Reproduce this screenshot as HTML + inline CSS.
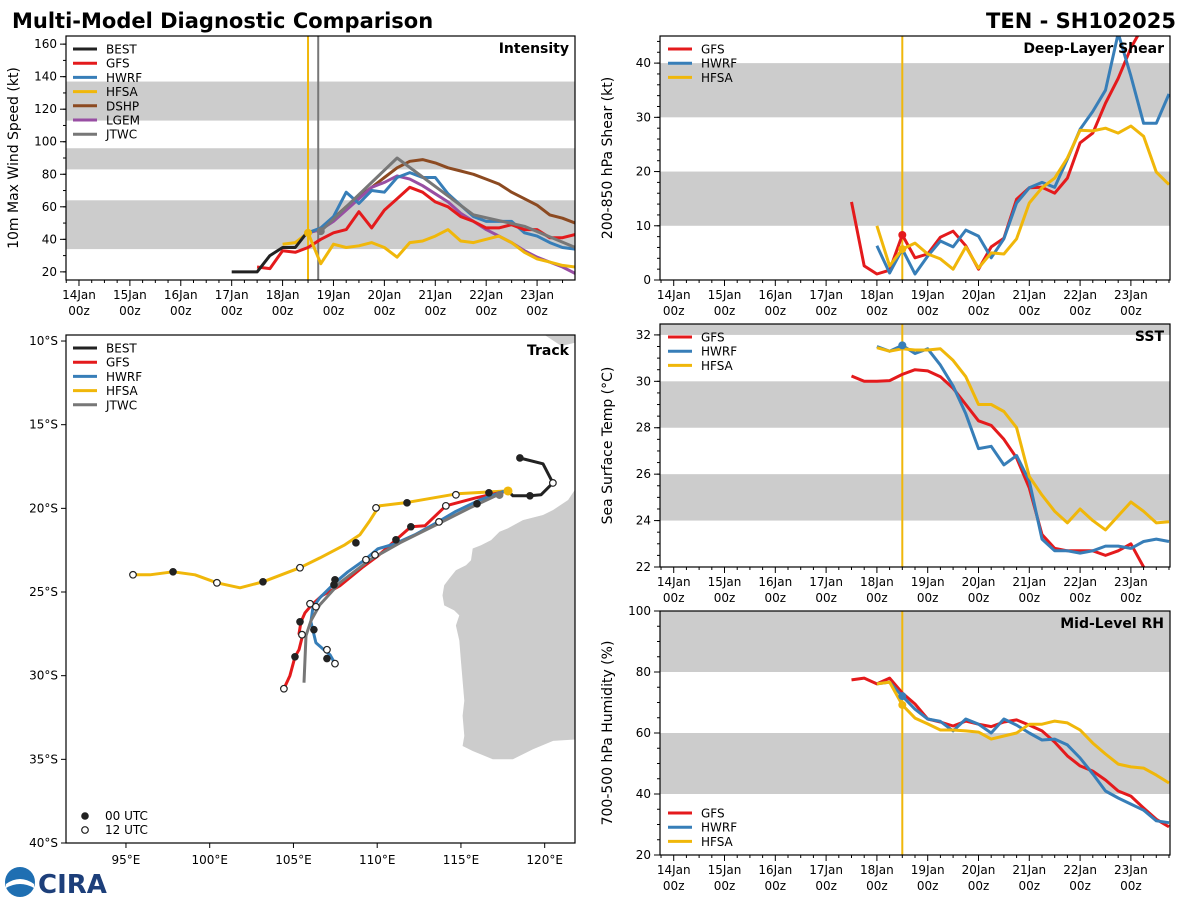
<!DOCTYPE html>
<html><head><meta charset="utf-8"><style>
html,body{margin:0;padding:0;background:#fff;}
svg text{font-family:"DejaVu Sans","Liberation Sans",sans-serif;}
</style></head><body>
<svg id="fig" width="1200" height="900" viewBox="0 0 1200 900" xmlns="http://www.w3.org/2000/svg">
<text x="12" y="28" font-size="21" font-weight="bold">Multi-Model Diagnostic Comparison</text>
<text x="1176" y="28" font-size="21" font-weight="bold" text-anchor="end">TEN - SH102025</text>
<g>
<circle cx="20" cy="882" r="15" fill="#1f6fb2"/>
<path d="M6 884 Q20 874 34 884 L34 888 Q20 880 6 888Z" fill="#fff"/>
<text x="38" y="893" font-size="26" font-weight="bold" fill="#1d3f7a" font-family="Liberation Serif,serif">CIRA</text>
</g>
</svg>
<script>
// ---------- data ----------
const intBestT=[3,3.25,3.5,3.75,4,4.25,4.5];
const intBest=[20,20,20,30,35,35,45];
const intGfs=[23,22,33,32,35,40,44,46,57,47,58,65,72,69,63,60,54,51,47,47,49,46,46,41,41,43]; // t from 3.5
const intHwrf=[44,47,54,69,62,70,69,78,81,78,78,68,61,54,51,51,51,44,42,38,35,34]; // t from 4.5
const intHfsa=[37,38,44,25,37,35,36,38,35,29,38,39,42,46,39,38,40,42,38,32,28,26,24,23]; // t from 4
const intDshp=[44,46,53,60,66,72,78,84,88,89,87,84,82,80,77,74,69,65,61,55,53,50]; // 4.5
const intLgem=[44,46,51,58,65,72,75,79,77,73,68,63,56,51,46,42,38,33,29,26,23,19]; // 4.5
const intJtwcT=[4.75,6.25,7.75,8.75,9.75];
const intJtwc=[45,90,55,48,35];
const shGfs=[14.4,2.6,1.1,1.8,8.3,4.1,4.8,7.9,9.0,6.3,2.0,6.1,7.7,14.9,17.0,17.1,16.0,18.8,25.3,27.1,32.6,37.2,42.8,47,50,53]; // 3.5
const shHwrf=[6.3,1.3,5.7,1.1,4.4,7.2,6.1,9.2,8.1,4.1,7.6,14.2,17.0,18.0,17.1,22.3,27.8,31.1,35.0,45.5,37.6,28.9,28.9,34.3]; // 4
const shHfsa=[10.0,2.6,5.7,6.8,4.8,3.9,2.0,6.1,2.2,5.0,4.8,7.6,14.2,17.0,18.8,22.5,27.6,27.5,28.0,27.1,28.4,26.5,19.9,17.6];
const sstGfs=[30.23,30.0,30.0,30.03,30.3,30.5,30.45,30.2,29.7,29.0,28.3,28.1,27.5,26.7,25.4,23.4,22.8,22.7,22.7,22.7,22.5,22.7,23.0,22.0,21.4,21.0];
const sstHwrf=[31.5,31.3,31.55,31.2,31.4,30.7,29.8,28.6,27.1,27.2,26.4,26.8,25.7,23.2,22.7,22.7,22.6,22.7,22.9,22.9,22.8,23.1,23.2,23.1];
const sstHfsa=[31.45,31.3,31.4,31.35,31.35,31.4,30.9,30.2,29.0,29.0,28.7,28.0,25.9,25.1,24.4,23.9,24.5,24.0,23.6,24.2,24.8,24.4,23.9,23.95];
const rhGfs=[77.4,78.0,76.1,78.0,73.1,69.5,64.6,63.6,62.3,63.9,62.9,62.1,63.6,64.3,62.6,60.7,57.0,52.5,49.2,47.5,44.6,41.0,39.3,35.4,31.7,29.2];
const rhHwrf=[76.1,76.7,72.1,67.8,64.6,63.8,60.7,64.6,62.9,60.0,64.6,62.6,60.0,57.7,58.0,56.1,51.8,46.6,41.0,38.7,36.7,34.7,31.2,30.6];
const rhHfsa=[76.1,76.7,69.2,64.9,63.0,61.0,61.0,60.7,60.3,58.0,59.0,60.0,62.9,62.9,63.9,63.3,61.0,56.7,53.1,49.8,48.9,48.5,46.2,43.6];
const dayLabels=["14Jan","15Jan","16Jan","17Jan","18Jan","19Jan","20Jan","21Jan","22Jan","23Jan"];
// track (lon E, lat)
const trkBestLon=[118.52,119.9,120.49,119.78,119.12,118.10,117.81];
const trkBestLat=[-16.99,-17.34,-18.48,-19.19,-19.25,-19.25,-18.96];
const trkGfsLon=[117.81,115.90,114.10,112.85,112.01,111.06,110.04,109.09,107.77,106.70,106.10,105.69,105.45,105.33,105.51,105.33,105.09,104.79,104.43];
const trkGfsLat=[-18.96,-19.37,-19.85,-21.04,-21.10,-21.94,-22.84,-23.55,-24.63,-25.22,-25.76,-26.24,-26.78,-27.49,-27.73,-28.45,-28.87,-30.00,-30.78];
const trkHwrfLon=[117.81,116.14,114.64,113.63,112.25,111.06,110.04,109.27,108.25,107.54,106.58,106.16,106.04,106.34,106.82,107.18,107.48];
const trkHwrfLat=[-18.90,-19.49,-20.21,-20.81,-21.58,-22.12,-22.42,-23.07,-23.79,-24.39,-25.34,-25.94,-26.78,-28.03,-28.45,-28.75,-29.28];
const trkJtwcLon=[117.33,115.54,113.75,111.36,109.57,107.77,106.58,106.04,105.75,105.63];
const trkJtwcLat=[-19.13,-19.97,-20.87,-22.06,-23.07,-24.45,-25.76,-26.72,-27.61,-30.42];
const trkHfsaLon=[117.81,114.76,111.66,110.16,109.93,109.51,108.97,108.07,106.58,105.39,103.18,101.81,100.43,99.12,97.81,96.43,95.42];
const trkHfsaLat=[-18.96,-19.13,-19.67,-19.85,-20.15,-20.81,-21.58,-22.18,-22.96,-23.55,-24.39,-24.75,-24.45,-23.97,-23.79,-23.97,-23.97];
const fixFilledLon=[116.67,115.96,112.01,111.12,107.48,107.42,105.39,106.22,107.00,105.09,111.78,108.73,103.18,97.81,118.52,119.12];
const fixFilledLat=[-19.07,-19.73,-21.10,-21.88,-24.27,-24.57,-26.78,-27.25,-28.98,-28.87,-19.67,-22.06,-24.39,-23.79,-16.99,-19.25];
const fixOpenLon=[114.10,113.69,109.33,109.87,105.99,106.34,105.51,107.00,107.48,104.43,114.70,109.93,105.39,100.43,95.42,120.49];
const fixOpenLat=[-19.85,-20.81,-23.07,-22.78,-25.70,-25.88,-27.55,-28.45,-29.28,-30.78,-19.19,-19.97,-23.55,-24.45,-23.97,-18.48];
const lonTicks=[95,100,105,110,115,120];
const latTicks=[-10,-15,-20,-25,-30,-35,-40];
// land outline (lon,lat) approximate
const landLon=[122,121.4,120.5,119.9,118.7,117.8,117.3,116.8,116.2,115.7,115.6,115.3,114.7,114.3,114.0,113.9,114.0,114.6,114.9,114.7,114.9,115.0,115.1,115.2,115.1,115.2,115.1,115.7,116.9,118.1,119.3,120.5,122];
const landLat=[-18.6,-19.5,-20.1,-20.4,-20.7,-21.2,-21.4,-21.9,-22.2,-22.4,-23.1,-23.4,-23.7,-24.2,-24.6,-25.2,-25.8,-26.1,-26.4,-27.0,-27.9,-29.1,-30.3,-31.5,-32.4,-33.6,-34.2,-34.5,-35.0,-35.0,-34.4,-33.9,-33.8];
// ---------- helpers ----------
const NS="http://www.w3.org/2000/svg";
const svg=document.getElementById('fig');
const C={best:"#222222",gfs:"#e41a1c",hwrf:"#377eb8",hfsa:"#f0b70a",dshp:"#8c4a21",lgem:"#984ea3",jtwc:"#777777",band:"#cccccc"};
function el(tag,attrs,parent){const e=document.createElementNS(NS,tag);for(const k in attrs)e.setAttribute(k,attrs[k]);(parent||svg).appendChild(e);return e;}
function seqT(start,n){const a=[];for(let i=0;i<n;i++)a.push(start+i*0.25);return a;}
function mkPanel(box,name){
  const g=el('g',{});
  
  
  const cid='clip-'+name;
  const cp=el('clipPath',{id:cid},g);el('rect',{x:box.x0,y:box.y0,width:box.x1-box.x0,height:box.y1-box.y0},cp);
  const inner=el('g',{'clip-path':'url(#'+cid+')'},g);
  return {g,inner};
}
function timePanel(box,name,yTicks,bands,ylabel,title,extraMinor){
  const P=mkPanel(box,name);
  const X=t=>box.x0+(t-box.tmin)/(box.tmax-box.tmin)*(box.x1-box.x0);
  const Y=v=>box.y1-(v-box.vmin)/(box.vmax-box.vmin)*(box.y1-box.y0);
  bands.forEach(b=>{const r=el('rect',{x:box.x0,y:Y(b[1]),width:box.x1-box.x0,height:Y(b[0])-Y(b[1]),fill:C.band},P.inner);
    
    });
  for(let t=-0.25;t<=box.tmax+0.001;t+=0.25){const x=X(t);if(x<box.x0-0.5)continue;const major=Math.abs(t-Math.round(t))<1e-6;
    el('line',{x1:x,x2:x,y1:box.y1,y2:box.y1+(major?6:3),stroke:'#000','stroke-width':1},P.g);}
  dayLabels.forEach((d,i)=>{const x=X(i);
    const t1=el('text',{x:x,y:box.y1+19,'font-size':12,'text-anchor':'middle'},P.g);t1.textContent=d;
    
    
    const t2=el('text',{x:x,y:box.y1+35,'font-size':12,'text-anchor':'middle'},P.g);t2.textContent='00z';});
  yTicks.forEach(v=>{const y=Y(v);el('line',{x1:box.x0-6,x2:box.x0,y1:y,y2:y,stroke:'#000'},P.g);
    const t=el('text',{x:box.x0-9,y:y+4,'font-size':12,'text-anchor':'end'},P.g);t.textContent=(v+'');
    
    });
  extraMinor.forEach(v=>{const y=Y(v);if(y>=box.y0&&y<=box.y1)el('line',{x1:box.x0-3,x2:box.x0,y1:y,y2:y,stroke:'#000'},P.g);});
  const cy=(box.y0+box.y1)/2;
  const yl=el('text',{x:0,y:0,'font-size':14,'text-anchor':'middle',transform:`translate(${box.x0-48},${cy}) rotate(-90)`},P.g);yl.textContent=ylabel;
  
  
  const tt=el('text',{x:box.x1-6,y:box.y0+17,'font-size':14,'font-weight':'bold','text-anchor':'end'},P.g);tt.textContent=title;
  
  
  el('line',{x1:X(4.5),x2:X(4.5),y1:box.y0,y2:box.y1,stroke:C.hfsa,'stroke-width':2},P.inner);
  return {P,X,Y};
}
function series(ax,ts,vs,color,name){
  const d=ts.map((t,i)=>(i?'L':'M')+ax.X(t).toFixed(1)+' '+ax.Y(vs[i]).toFixed(1)).join(' ');
  const p=el('path',{d:d,fill:'none',stroke:color,'stroke-width':3,'stroke-linejoin':'round'},ax.P.inner);
  
  
  return p;
}
function dot(ax,t,v,color){el('circle',{cx:ax.X(t),cy:ax.Y(v),r:4,fill:color},ax.P.inner);}
function legend(g,x,y,items){
  items.forEach((it,i)=>{const yy=y+i*14.2;
    const l=el('line',{x1:x,x2:x+24,y1:yy,y2:yy,stroke:it[1],'stroke-width':3},g);
    
    
    const t=el('text',{x:x+33,y:yy+4.5,'font-size':12},g);t.textContent=it[0];});
}
function frame(g,box){el('rect',{x:box.x0,y:box.y0,width:box.x1-box.x0,height:box.y1-box.y0,fill:'none',stroke:'#000','stroke-width':1.2},g);}
function range(a,b,s){const r=[];for(let v=a;v<=b+1e-9;v+=s)r.push(+v.toFixed(3));return r;}

// ---------- intensity ----------
const b1={x0:66,x1:575,y0:36,y1:280,tmin:-0.255,tmax:9.745,vmin:15,vmax:165};
const A1=timePanel(b1,'intensity-panel',range(20,160,20),[[34,64],[83,96],[113,137]],'10m Max Wind Speed (kt)','Intensity',range(20,165,10));
el('line',{x1:A1.X(4.7),x2:A1.X(4.7),y1:b1.y0,y2:b1.y1,stroke:C.jtwc,'stroke-width':2},A1.P.inner);
series(A1,seqT(4.5,intDshp.length),intDshp,C.dshp,'dshp-line');
series(A1,seqT(4.5,intLgem.length),intLgem,C.lgem,'lgem-line');
series(A1,seqT(4.5,intHwrf.length),intHwrf,C.hwrf,'hwrf-line');
series(A1,seqT(3.5,intGfs.length),intGfs,C.gfs,'gfs-line');
series(A1,seqT(4,intHfsa.length),intHfsa,C.hfsa,'hfsa-line');
series(A1,intJtwcT,intJtwc,C.jtwc,'jtwc-line');
series(A1,intBestT,intBest,C.best,'best-line');
dot(A1,4.5,44,C.hfsa);dot(A1,4.75,45,C.jtwc);
frame(A1.P.g,b1);
legend(A1.P.g,73,49,[['BEST',C.best],['GFS',C.gfs],['HWRF',C.hwrf],['HFSA',C.hfsa],['DSHP',C.dshp],['LGEM',C.lgem],['JTWC',C.jtwc]]);

// ---------- shear ----------
const b2={x0:660,x1:1170,y0:36,y1:280,tmin:-0.27,tmax:9.77,vmin:0,vmax:45};
const A2=timePanel(b2,'shear-panel',range(0,40,10),[[10,20],[30,40]],'200-850 hPa Shear (kt)','Deep-Layer Shear',range(0,45,2));
series(A2,seqT(3.5,shGfs.length),shGfs,C.gfs,'gfs-shear-line');
series(A2,seqT(4,shHwrf.length),shHwrf,C.hwrf,'hwrf-shear-line');
series(A2,seqT(4,shHfsa.length),shHfsa,C.hfsa,'hfsa-shear-line');
dot(A2,4.5,8.3,C.gfs);dot(A2,4.5,5.7,C.hfsa);
frame(A2.P.g,b2);
legend(A2.P.g,668,49,[['GFS',C.gfs],['HWRF',C.hwrf],['HFSA',C.hfsa]]);

// ---------- SST ----------
const b3={x0:660,x1:1170,y0:324,y1:567,tmin:-0.27,tmax:9.77,vmin:22,vmax:32.47};
const A3=timePanel(b3,'sst-panel',range(22,32,2),[[24,26],[28,30],[32,34]],'Sea Surface Temp (°C)','SST',range(22,32.4,0.5));
series(A3,seqT(3.5,sstGfs.length),sstGfs,C.gfs,'gfs-sst-line');
series(A3,seqT(4,sstHwrf.length),sstHwrf,C.hwrf,'hwrf-sst-line');
series(A3,seqT(4,sstHfsa.length),sstHfsa,C.hfsa,'hfsa-sst-line');
dot(A3,4.5,31.55,C.hwrf);
frame(A3.P.g,b3);
legend(A3.P.g,668,337,[['GFS',C.gfs],['HWRF',C.hwrf],['HFSA',C.hfsa]]);

// ---------- RH ----------
const b4={x0:660,x1:1170,y0:611,y1:855,tmin:-0.27,tmax:9.77,vmin:20,vmax:100};
const A4=timePanel(b4,'rh-panel',range(20,100,20),[[40,60],[80,100]],'700-500 hPa Humidity (%)','Mid-Level RH',range(20,100,5));
series(A4,seqT(3.5,rhGfs.length),rhGfs,C.gfs,'gfs-rh-line');
series(A4,seqT(4,rhHwrf.length),rhHwrf,C.hwrf,'hwrf-rh-line');
series(A4,seqT(4,rhHfsa.length),rhHfsa,C.hfsa,'hfsa-rh-line');
dot(A4,4.5,72.1,C.hwrf);dot(A4,4.5,69.2,C.hfsa);
frame(A4.P.g,b4);
legend(A4.P.g,668,813,[['GFS',C.gfs],['HWRF',C.hwrf],['HFSA',C.hfsa]]);

// ---------- track ----------
const b5={x0:66,x1:575,y0:335,y1:843,lonMin:91.42,lonMax:121.81,latMax:-9.64,latMin:-40};
const PT=mkPanel(b5,'track-panel');
const LX=lon=>b5.x0+(lon-b5.lonMin)/(b5.lonMax-b5.lonMin)*(b5.x1-b5.x0);
const LY=lat=>b5.y0+(b5.latMax-lat)/(b5.latMax-b5.latMin)*(b5.y1-b5.y0);
const land=el('path',{d:landLon.map((l,i)=>(i?'L':'M')+LX(l).toFixed(1)+' '+LY(landLat[i]).toFixed(1)).join(' ')+'Z',fill:C.band},PT.inner);


el('path',{d:`M${LX(120)} ${b5.y0} L${LX(121)} ${LY(-10.3)} L${LX(121.8)} ${LY(-10.1)} L${LX(121.8)} ${b5.y0}Z`,fill:C.band},PT.inner);
function track(lons,lats,color,name){const p=el('path',{d:lons.map((l,i)=>(i?'L':'M')+LX(l).toFixed(1)+' '+LY(lats[i]).toFixed(1)).join(' '),fill:'none',stroke:color,'stroke-width':3,'stroke-linejoin':'round'},PT.inner);
  
  }
track(trkHfsaLon,trkHfsaLat,C.hfsa,'hfsa-track');
track(trkGfsLon,trkGfsLat,C.gfs,'gfs-track');
track(trkHwrfLon,trkHwrfLat,C.hwrf,'hwrf-track');
track(trkJtwcLon,trkJtwcLat,C.jtwc,'jtwc-track');
track(trkBestLon,trkBestLat,C.best,'best-track');
fixFilledLon.forEach((l,i)=>{const c=el('circle',{cx:LX(l),cy:LY(fixFilledLat[i]),r:3.8,fill:'#222'},PT.inner);
  
  });
fixOpenLon.forEach((l,i)=>{const c=el('circle',{cx:LX(l),cy:LY(fixOpenLat[i]),r:3.3,fill:'#fff',stroke:'#222','stroke-width':1.2},PT.inner);
  
  });
el('circle',{cx:LX(117.81),cy:LY(-18.96),r:4.5,fill:C.hfsa},PT.inner);
el('circle',{cx:LX(117.3),cy:LY(-19.2),r:4,fill:C.jtwc},PT.inner);
lonTicks.forEach(l=>{const x=LX(l);el('line',{x1:x,x2:x,y1:b5.y1,y2:b5.y1+5,stroke:'#000'},PT.g);
  const t=el('text',{x:x,y:b5.y1+21,'font-size':12,'text-anchor':'middle'},PT.g);t.textContent=l+'°E';
  
  });
latTicks.forEach(l=>{const y=LY(l);el('line',{x1:b5.x0-5,x2:b5.x0,y1:y,y2:y,stroke:'#000'},PT.g);
  const t=el('text',{x:b5.x0-8,y:y+4,'font-size':12,'text-anchor':'end'},PT.g);t.textContent=(-l)+'°S';
  
  });
const tt5=el('text',{x:b5.x1-6,y:b5.y0+20,'font-size':14,'font-weight':'bold','text-anchor':'end'},PT.g);tt5.textContent='Track';
frame(PT.g,b5);
legend(PT.g,73,348,[['BEST',C.best],['GFS',C.gfs],['HWRF',C.hwrf],['HFSA',C.hfsa],['JTWC',C.jtwc]]);
el('circle',{cx:85,cy:816,r:3.8,fill:'#222'},PT.g);
el('circle',{cx:85,cy:830,r:3.3,fill:'#fff',stroke:'#222','stroke-width':1.2},PT.g);
const u1=el('text',{x:105,y:820,'font-size':12},PT.g);u1.textContent='00 UTC';
const u2=el('text',{x:105,y:834,'font-size':12},PT.g);u2.textContent='12 UTC';
</script>
</body></html>
